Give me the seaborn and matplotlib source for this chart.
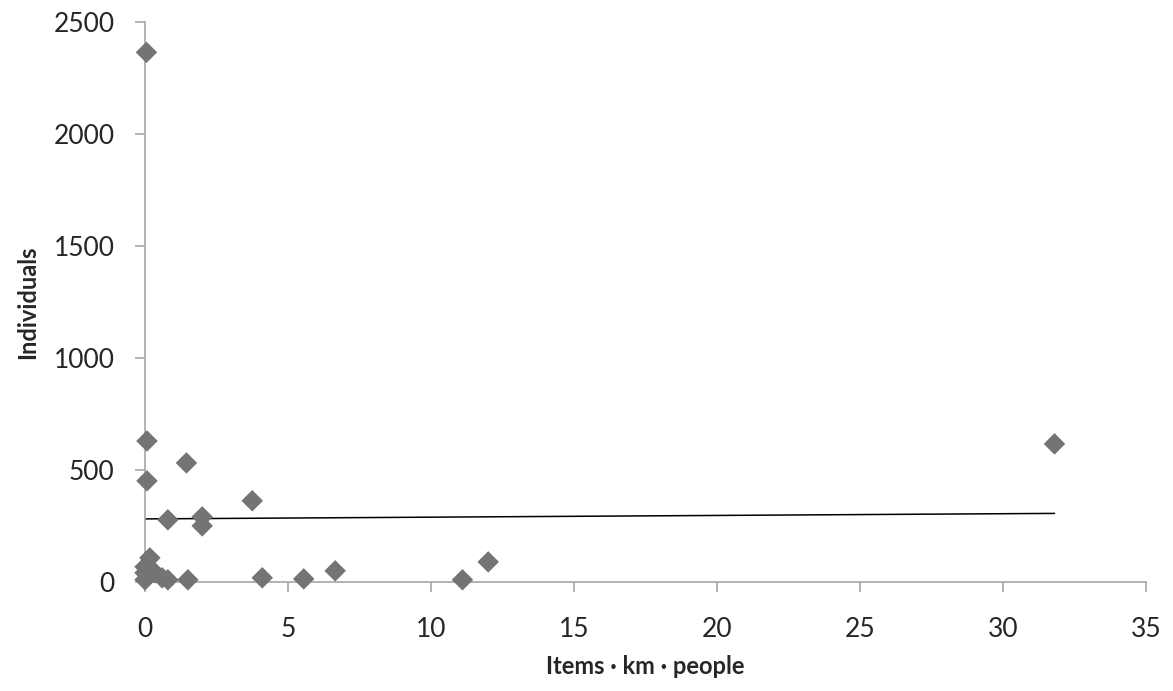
import numpy as np
import pandas as pd
import matplotlib
matplotlib.use("Agg")
import matplotlib.pyplot as plt
import seaborn as sns

# values
items_km_people = [0.05, 0.07, 0.07, 1.45, 3.75, 0.8, 2.0, 2.0, 0.17, 0.0, 0.0,
                   0.0, 0.35, 0.6, 0.8, 1.5, 4.1, 5.55, 6.65, 11.1, 12.0, 31.8]
individuals = [2365, 629, 451, 531, 362, 277, 290, 250, 107, 67, 40,
               9, 40, 18, 9, 9, 18, 13, 49, 9, 89, 616]
x_ticks = [0, 5, 10, 15, 20, 25, 30, 35]
y_ticks = [0, 500, 1000, 1500, 2000, 2500]

df = pd.DataFrame({"x": items_km_people, "y": individuals})

sns.set_style("white")
plt.rcParams['font.family'] = ['Lato', 'DejaVu Sans']

fig = plt.figure(figsize=(11.73, 6.91), dpi=100)
ax = fig.add_axes([0.1236, 0.158, 0.8534, 0.81])

sns.scatterplot(data=df, x="x", y="y", marker="D", s=120, color="#747474",
                edgecolor="none", ax=ax, zorder=3, clip_on=False)
sns.regplot(data=df, x="x", y="y", scatter=False, ci=None, truncate=True,
            line_kws=dict(color="black", lw=1.1), ax=ax)

ax.set_xlim(0, 35)
ax.set_ylim(0, 2500)
ax.set_xticks(x_ticks)
ax.set_yticks(y_ticks)
ax.tick_params(axis="both", labelsize=19, length=7, width=1.2, color="#a6a6a6",
               direction="out", bottom=True, left=True)
ax.tick_params(axis="x", pad=18)
ax.tick_params(axis="y", pad=15)
for side in ["top", "right"]:
    ax.spines[side].set_visible(False)
for side in ["left", "bottom"]:
    ax.spines[side].set_color("#a6a6a6")
    ax.spines[side].set_linewidth(1.2)

ax.set_xlabel("Items · km · people", fontsize=17, weight="bold", labelpad=10)
ax.set_ylabel("Individuals", fontsize=17, weight="bold", labelpad=10)

fig.savefig("out.png", dpi=100)
